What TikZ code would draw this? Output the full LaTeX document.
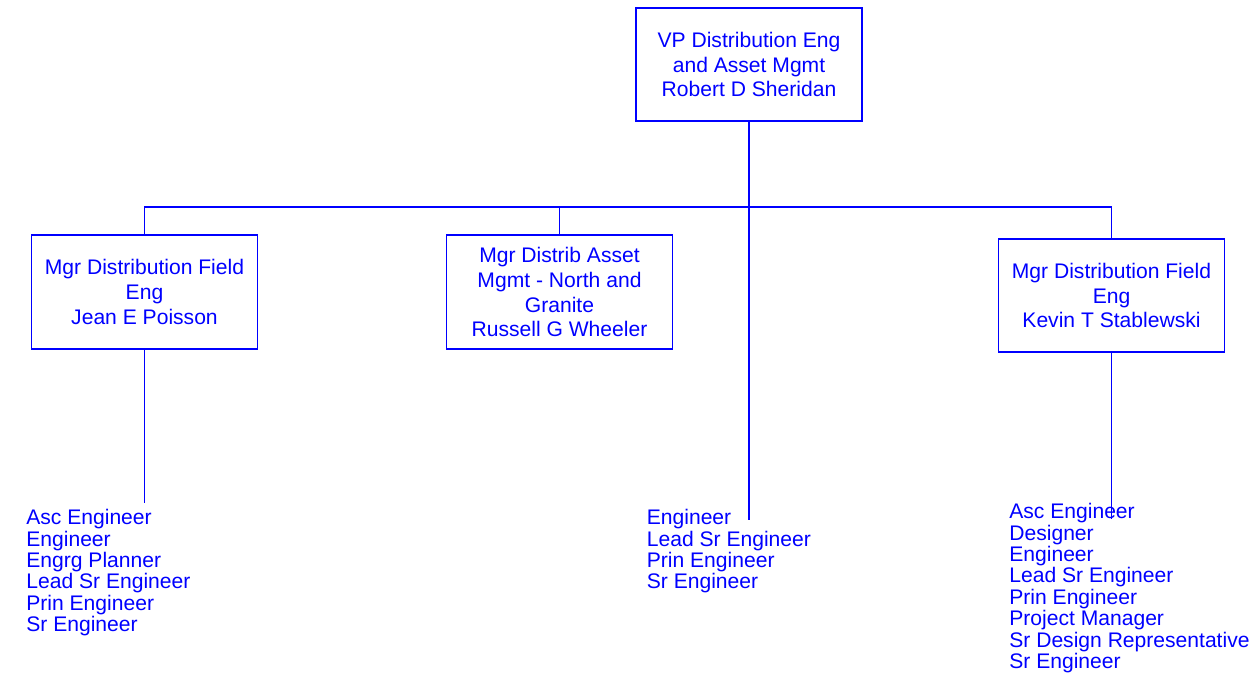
\documentclass[tikz,border=0pt]{standalone}
\usepackage{fontspec}
\setmainfont{Liberation Sans}
\usetikzlibrary{positioning}
\definecolor{orgblue}{rgb}{0,0,1}
\tikzset{
  posbox/.style={draw=orgblue, line width=1.1pt, text=orgblue, align=center,
    minimum width=4.52cm, minimum height=2.27cm, inner sep=0pt,
    font=\fontsize{12}{14.2}\selectfont},
  titlelist/.style={text=orgblue, align=left, anchor=north west, inner sep=0pt,
    font=\fontsize{12}{12.2}\selectfont},
  orgline/.style={draw=orgblue, line width=1.1pt}
}
\begin{document}
\begin{tikzpicture}[x=0.02cm, y=-0.02cm]
\useasboundingbox (0,0) rectangle (1258,676);
% boxes
\node[posbox] (vp) at (749,64.5) {VP Distribution Eng\\and Asset Mgmt\\Robert D Sheridan};
\node[posbox] (mgrA) at (144.5,292) {Mgr Distribution Field\\Eng\\Jean E Poisson};
\node[posbox] (mgrB) at (559.5,292) {Mgr Distrib Asset\\Mgmt - North and\\Granite\\Russell G Wheeler};
\node[posbox] (mgrC) at (1111.5,295.5) {Mgr Distribution Field\\Eng\\Kevin T Stablewski};
% job titles
\node[titlelist] (listA) at (26,509) {Asc Engineer\\Engineer\\Engrg Planner\\Lead Sr Engineer\\Prin Engineer\\Sr Engineer};
\node[titlelist] (listB) at (646.5,509) {Engineer\\Lead Sr Engineer\\Prin Engineer\\Sr Engineer};
\node[titlelist] (listC) at (1009,503) {Asc Engineer\\Designer\\Engineer\\Lead Sr Engineer\\Prin Engineer\\Project Manager\\Sr Design Representative\\Sr Engineer};
% connectors
\coordinate (bus) at (749,207);
\coordinate (endVP) at (749,520);
\coordinate (endA) at (144.5,503);
\coordinate (endC) at (1111.5,519);
\draw[orgline] (mgrA.north) -- (mgrA.north |- bus) -- (mgrC.north |- bus) -- (mgrC.north);
\draw[orgline] (mgrB.north) -- (mgrB.north |- bus);
\draw[orgline] (vp.south) -- (endVP);
\draw[orgline] (mgrA.south) -- (endA);
\draw[orgline] (mgrC.south) -- (endC);
\end{tikzpicture}
\end{document}
